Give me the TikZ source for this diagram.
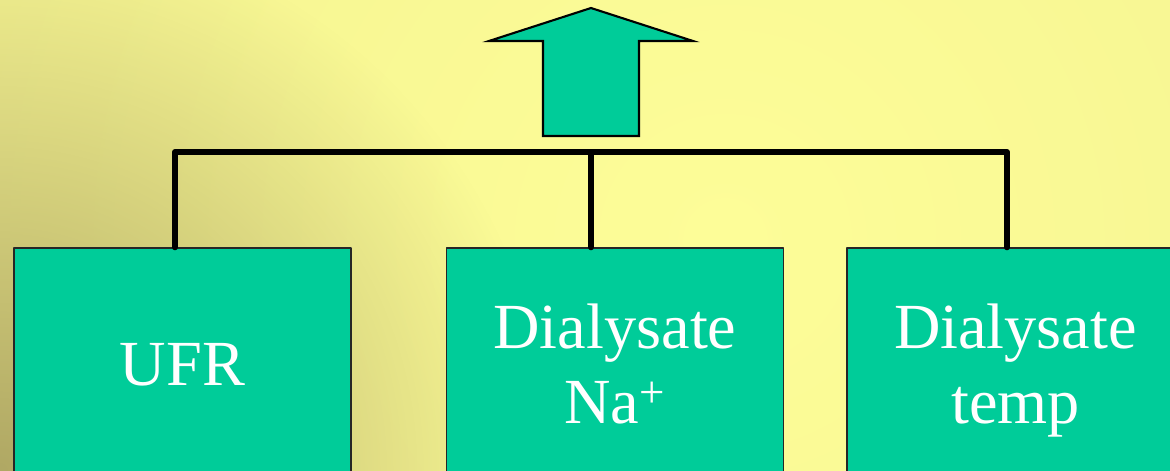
\documentclass[tikz,border=0pt]{standalone}
\usepackage{fontspec}
\setmainfont{Liberation Serif}
\usetikzlibrary{arrows.meta, calc, fadings}
\definecolor{bgLight}{RGB}{253,253,152}
\definecolor{bgEdge}{RGB}{236,234,138}
\definecolor{bgDark}{RGB}{176,168,100}
\definecolor{boxTeal}{RGB}{0,204,153}
\tikzfading[name=cornerfade, inner color=transparent!0, outer color=transparent!100]

\begin{document}
\begin{tikzpicture}[>=Latex, line cap=round, line join=round,
	box/.style={draw=black!85, line width=0.8pt, fill=boxTeal, text=white,
		minimum width=6.74cm, minimum height=4.64cm, inner sep=0pt,
		align=center, text depth=0pt, font=\fontsize{36.6}{42.7}\selectfont},
	bus/.style={line width=3.4pt},
	bigarrow/.style={draw=black, line width=1.2pt, fill=boxTeal, line join=miter}]
%========================
% Background
%========================
\useasboundingbox (0,0) rectangle (23.4,9.4);
\clip (0,0) rectangle (23.4,9.4);
\shade[inner color=bgLight, outer color=bgEdge] (14.5-32,4.6-32) rectangle (14.5+32,4.6+32);
% darker corner, bottom left
\fill[bgDark, path fading=cornerfade] (-11,-11) rectangle (11,11);

%========================
% Boxes
%========================
\node[box] (ufr)  at (3.65,2.12)  {UFR};
\node[box] (na)   at (12.30,2.12) {Dialysate\\Na\textsuperscript{+}};
\node[box] (temp) at (20.31,2.12) {Dialysate\\temp};

% bus joining the three boxes
\coordinate (busL) at (3.50,6.36);
\coordinate (busM) at (11.82,6.36);
\coordinate (busR) at (20.14,6.36);
\draw[bus] (busL |- ufr.north) -- (busL) -- (busR) -- (busR |- temp.north);
\draw[bus] (busM |- na.north) -- (busM);

%========================
% Up arrow
%========================
\draw[bigarrow] (10.86,6.68) -- (10.86,8.58) -- (9.78,8.58) -- (11.82,9.24)
	-- (13.86,8.58) -- (12.78,8.58) -- (12.78,6.68) -- cycle;
\end{tikzpicture}
\end{document}
